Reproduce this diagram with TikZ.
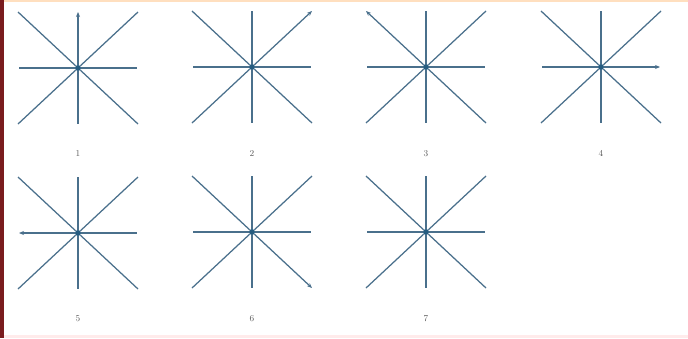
\documentclass[tikz,border=0pt]{standalone}
\usepackage{tikz}
\usetikzlibrary{arrows.meta}

\definecolor{raycol}{RGB}{74,112,140}
\definecolor{hubcol}{RGB}{38,92,128}
\definecolor{edgered}{RGB}{122,28,30}

\begin{document}
\begin{tikzpicture}[
  x=1pt, y=-1pt,
  every node/.style={font=\small},
  ray/.style={draw=raycol, line width=1.25pt},
  aray/.style={ray, -{Stealth[length=5pt,width=4pt]}},
  hub/.style={circle, fill=hubcol, inner sep=0pt, minimum size=6pt},
  lbl/.style={text=gray!70!black, inner sep=1pt, anchor=base}
]
\useasboundingbox (0,0) rectangle (688,338);
\fill[white] (0,0) rectangle (688,338);

% frame strips
\fill[edgered] (0,0) rectangle (4,338);
\fill[orange!25] (4,0) rectangle (688,1.5);
\fill[red!8] (4,335) rectangle (688,338);

% hubs, top row
\node[hub] (h1) at (78,68)  {};
\node[hub] (h2) at (252,67) {};
\node[hub] (h3) at (426,67) {};
\node[hub] (h4) at (601,67) {};

% hubs, bottom row
\node[hub] (h5) at (78,233)  {};
\node[hub] (h6) at (252,232) {};
\node[hub] (h7) at (426,232) {};

% labels
\node[lbl] (l1) at (78,156)  {1};
\node[lbl] (l2) at (252,156) {2};
\node[lbl] (l3) at (426,156) {3};
\node[lbl] (l4) at (601,156) {4};
\node[lbl] (l5) at (78,321)  {5};
\node[lbl] (l6) at (252,321) {6};
\node[lbl] (l7) at (426,321) {7};

% ray ends
\foreach \s in {1,...,7} {
  \foreach \d/\dx/\dy in {e/59/0,ne/60/-56,n/0/-56,nw/-60/-56,w/-59/0,sw/-60/56,s/0/56,se/60/56}
    \path (h\s) ++(\dx,\dy) coordinate (h\s-\d);
}

% rays (one with a tip per star, none on 7)
\foreach \s/\a in {1/n,2/ne,3/nw,4/e,5/w,6/se,7/none} {
  \foreach \d in {e,ne,n,nw,w,sw,s,se} {
    \edef\thisray{\d}\edef\tipray{\a}
    \ifx\thisray\tipray
      \draw[aray] (h\s) -- (h\s-\d);
    \else
      \draw[ray] (h\s) -- (h\s-\d);
    \fi
  }
}

\end{tikzpicture}
\end{document}
